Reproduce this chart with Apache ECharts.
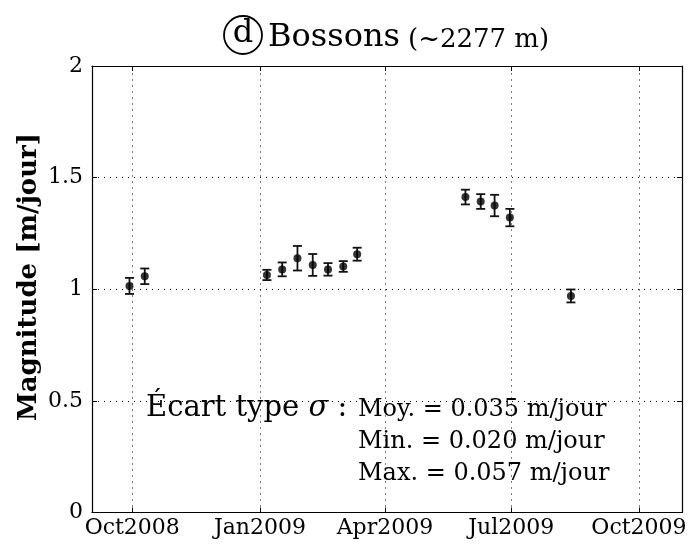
<!DOCTYPE html>
<html>
<head>
<meta charset="utf-8">
<script src="https://cdn.jsdelivr.net/npm/echarts@6/dist/echarts.min.js"></script>
<style>html,body{margin:0;padding:0;background:#fff;}#c{width:688px;height:547px;}</style>
</head>
<body>
<div id="c"></div>
<script>
// ---- data ----
const dates = ['2008-09-29','2008-10-10','2009-01-06','2009-01-17','2009-01-28','2009-02-08','2009-02-19','2009-03-02','2009-03-12','2009-05-29','2009-06-09','2009-06-19','2009-06-30','2009-08-13'];
const magnitude = [1.015,1.058,1.064,1.089,1.139,1.109,1.089,1.102,1.157,1.413,1.393,1.375,1.321,0.970];
const sigma = [0.036,0.035,0.023,0.031,0.055,0.049,0.028,0.024,0.029,0.033,0.033,0.048,0.039,0.029];
const xTickDates = ['2008-10-01','2009-01-01','2009-04-01','2009-07-01','2009-10-01'];
const xTickLabels = ['Oct2008','Jan2009','Apr2009','Jul2009','Oct2009'];
const xRange = ['2008-09-02','2009-11-01'];
const titleMain = 'Bossons';
const titleSub = '(~2277 m)';
const titleLetter = 'd';
const yName = 'Magnitude [m/jour]';
const statHead = 'Écart type ';
const statSym = 'σ';
const statLines = ['Moy. = 0.035 m/jour','Min. = 0.020 m/jour','Max. = 0.057 m/jour'];

function ts(s){const p=s.split('-').map(Number);return Date.UTC(p[0],p[1]-1,p[2]);}
const xTicks = xTickDates.map(ts);
const labelMap = {}; xTicks.forEach((t,i)=>labelMap[t]=xTickLabels[i]);
const pts = dates.map((d,i)=>[ts(d), magnitude[i]]);
const errs = dates.map((d,i)=>[ts(d), magnitude[i]-sigma[i], magnitude[i]+sigma[i]]);

const FONT = 'DejaVu Serif';
const dotted = {color:'#000', width:1, type:[1,5]};
const chart = echarts.init(document.getElementById('c'), null, {renderer:'canvas'});
chart.setOption({
  animation:false,
  backgroundColor:'#fff',
  grid:{left:92, right:6, top:66, bottom:34.5, containLabel:false, outerBoundsMode:'none'},
  xAxis:[{
    type:'value', min:ts(xRange[0]), max:ts(xRange[1]), scale:true,
    axisLine:{show:true, onZero:false, lineStyle:{color:'#000', width:1.2}},
    axisTick:{show:true, inside:true, length:5, customValues:xTicks, lineStyle:{color:'#000'}},
    axisLabel:{show:true, customValues:xTicks, formatter:v=>labelMap[v]||'', color:'#000', fontFamily:FONT, fontSize:22, margin:5},
    splitLine:{show:false}
  },{
    type:'value', position:'top', min:ts(xRange[0]), max:ts(xRange[1]), scale:true,
    axisLine:{show:true, onZero:false, lineStyle:{color:'#000', width:1.2}},
    axisTick:{show:true, inside:true, length:5, customValues:xTicks, lineStyle:{color:'#000'}},
    axisLabel:{show:false}, splitLine:{show:false}
  }],
  yAxis:[{
    type:'value', min:0, max:2, interval:0.5,
    axisLine:{show:true, lineStyle:{color:'#000', width:1.2}},
    axisTick:{show:true, inside:true, length:5, lineStyle:{color:'#000'}},
    axisLabel:{color:'#000', fontFamily:FONT, fontSize:22, margin:9, formatter:v=>String(v)},
    splitLine:{show:true, lineStyle:dotted}
  },{
    type:'value', position:'right', min:0, max:2, interval:0.5,
    axisLine:{show:true, onZero:false, lineStyle:{color:'#000', width:1.2}},
    axisTick:{show:true, inside:true, length:5, lineStyle:{color:'#000'}},
    axisLabel:{show:false}, splitLine:{show:false}
  }],
  series:[{
    type:'custom', xAxisIndex:0, yAxisIndex:0, data:errs, z:3,
    renderItem:function(params, api){
      const x=api.value(0);
      const a=api.coord([x, api.value(1)]), b=api.coord([x, api.value(2)]);
      const hw=4.5, st={stroke:'#111', lineWidth:1.8};
      return {type:'group', children:[
        {type:'line', shape:{x1:a[0],y1:a[1],x2:b[0],y2:b[1]}, style:st},
        {type:'line', shape:{x1:a[0]-hw,y1:a[1],x2:a[0]+hw,y2:a[1]}, style:st},
        {type:'line', shape:{x1:b[0]-hw,y1:b[1],x2:b[0]+hw,y2:b[1]}, style:st}
      ]};
    }
  },{
    type:'scatter', xAxisIndex:0, yAxisIndex:0, data:pts, symbol:'circle', symbolSize:8, itemStyle:{color:'#000'}, z:4,
    markLine:{silent:true, symbol:'none', label:{show:false}, lineStyle:dotted, z:1,
      data:xTicks.map(t=>({xAxis:t}))}
  }],
  graphic:[
    {type:'text', x:29, y:277, rotation:Math.PI/2, style:{text:yName, font:'bold 26px "DejaVu Serif"', fill:'#000', align:'center', verticalAlign:'middle'}},
    {type:'circle', shape:{cx:243, cy:35, r:19}, style:{fill:'none', stroke:'#000', lineWidth:1.8}},
    {type:'text', x:243, y:34, style:{text:titleLetter, font:'32px "DejaVu Serif"', fill:'#000', align:'center', verticalAlign:'middle'}},
    {type:'text', x:268, y:54, style:{text:titleMain, font:'32px "DejaVu Serif"', fill:'#000', align:'left', verticalAlign:'bottom'}},
    {type:'text', x:408, y:53, style:{text:titleSub, font:'26px "DejaVu Serif"', fill:'#000', align:'left', verticalAlign:'bottom'}},
    {type:'text', x:146, y:408, style:{
      text:'{a|'+statHead+'}{s|'+statSym+'}{a| :}', verticalAlign:'middle',
      rich:{a:{fontFamily:FONT, fontSize:29, fill:'#000'}, s:{fontFamily:FONT, fontStyle:'italic', fontSize:29, fill:'#000'}}}},
    {type:'text', x:358, y:410, style:{text:statLines[0], font:'24px "DejaVu Serif"', fill:'#000', verticalAlign:'middle'}},
    {type:'text', x:358, y:442, style:{text:statLines[1], font:'24px "DejaVu Serif"', fill:'#000', verticalAlign:'middle'}},
    {type:'text', x:358, y:474, style:{text:statLines[2], font:'24px "DejaVu Serif"', fill:'#000', verticalAlign:'middle'}}
  ]
});
</script>
</body>
</html>
